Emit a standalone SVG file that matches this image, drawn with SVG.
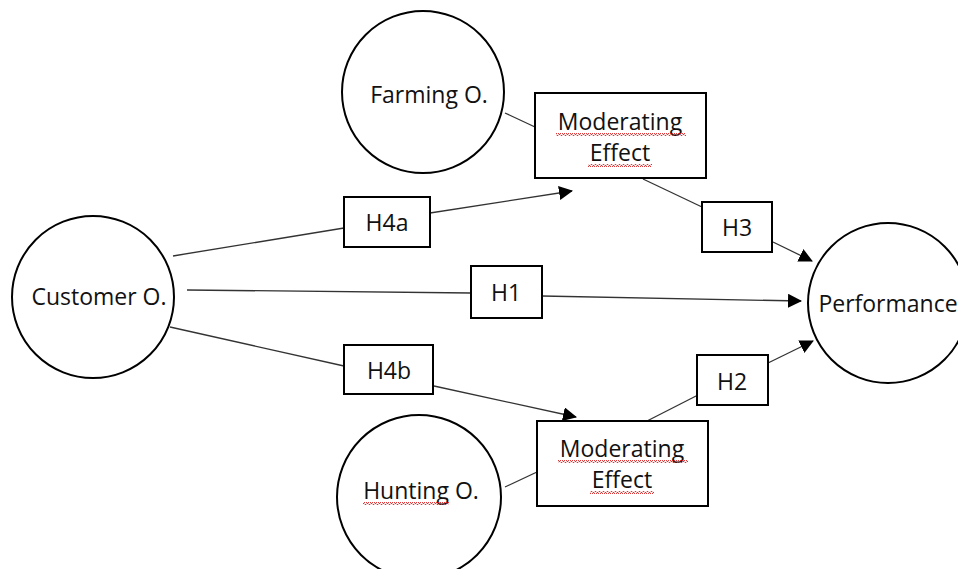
<svg xmlns="http://www.w3.org/2000/svg" width="958" height="569" viewBox="0 0 958 569">
<style>
.node{fill:#fff;stroke:#000;stroke-width:2}
.lbl{font-family:"Open Sans","Liberation Sans",sans-serif;font-size:23px;fill:#111;text-anchor:middle}
.edge{stroke:#333;stroke-width:1.3;fill:none}
.arr{marker-end:url(#ah)}
.wave{fill:url(#wv)}
</style>
<defs>
<marker id="ah" markerWidth="14" markerHeight="14" refX="13" refY="7" orient="auto" markerUnits="userSpaceOnUse">
<path d="M0,0 L14,7 L0,14 Z" fill="#000"/>
</marker>
<pattern id="wv" width="4" height="3" patternUnits="userSpaceOnUse">
<path d="M0,2.5 L1,0.5 L2,0.5 L3,2.5 L4,2.5" stroke="#d22" stroke-width="0.9" fill="none"/>
</pattern>
</defs>
<rect width="958" height="569" fill="#fff"/>
<g id="connectors">
<line class="edge" x1="505" y1="113" x2="535" y2="127"/>
<line class="edge" x1="643" y1="179" x2="702" y2="207"/>
<line class="edge arr" x1="773" y1="242" x2="812" y2="261"/>
<line class="edge" x1="173" y1="256" x2="344" y2="228"/>
<line class="edge arr" x1="430" y1="213" x2="572" y2="191"/>
<line class="edge" x1="187" y1="290" x2="471" y2="293"/>
<line class="edge arr" x1="542" y1="296" x2="801" y2="301"/>
<line class="edge" x1="170" y1="327" x2="344" y2="366"/>
<line class="edge arr" x1="434" y1="386" x2="576" y2="417"/>
<line class="edge" x1="647" y1="421" x2="698" y2="395"/>
<line class="edge arr" x1="768" y1="363" x2="813" y2="341"/>
<line class="edge" x1="505" y1="487" x2="537" y2="472"/>
</g>
<g id="customer">
<circle class="node" cx="93" cy="297" r="81"/>
<text class="lbl" x="99" y="305">Customer O.</text>
</g>
<g id="farming">
<circle class="node" cx="423" cy="92" r="81"/>
<text class="lbl" x="429" y="103">Farming O.</text>
</g>
<g id="hunting">
<circle class="node" cx="419" cy="497" r="82"/>
<text class="lbl" x="421" y="499">Hunting O.</text>
<rect class="wave" x="363" y="502" width="86" height="3"/>
</g>
<g id="performance">
<circle class="node" cx="888" cy="303" r="80"/>
<text class="lbl" x="888" y="312">Performance</text>
</g>
<g id="mod-top">
<rect class="node" x="535" y="93" width="171" height="85"/>
<text class="lbl" x="620" y="130">Moderating</text>
<text class="lbl" x="620" y="161">Effect</text>
<rect class="wave" x="556" y="133" width="130" height="3"/>
<rect class="wave" x="588" y="164" width="64" height="3"/>
</g>
<g id="mod-bottom">
<rect class="node" x="537" y="421" width="171" height="85"/>
<text class="lbl" x="622" y="457">Moderating</text>
<text class="lbl" x="622" y="488">Effect</text>
<rect class="wave" x="558" y="460" width="130" height="3"/>
<rect class="wave" x="590" y="491" width="64" height="3"/>
</g>
<g id="h4a">
<rect class="node" x="344" y="197" width="86" height="50"/>
<text class="lbl" x="387" y="231">H4a</text>
</g>
<g id="h4b">
<rect class="node" x="344" y="345" width="89" height="49"/>
<text class="lbl" x="389" y="379">H4b</text>
</g>
<g id="h1">
<rect class="node" x="471" y="266" width="71" height="52"/>
<text class="lbl" x="506" y="301">H1</text>
</g>
<g id="h3">
<rect class="node" x="702" y="202" width="70" height="50"/>
<text class="lbl" x="737" y="236">H3</text>
</g>
<g id="h2">
<rect class="node" x="697" y="355" width="71" height="50"/>
<text class="lbl" x="732" y="390">H2</text>
</g>
</svg>
